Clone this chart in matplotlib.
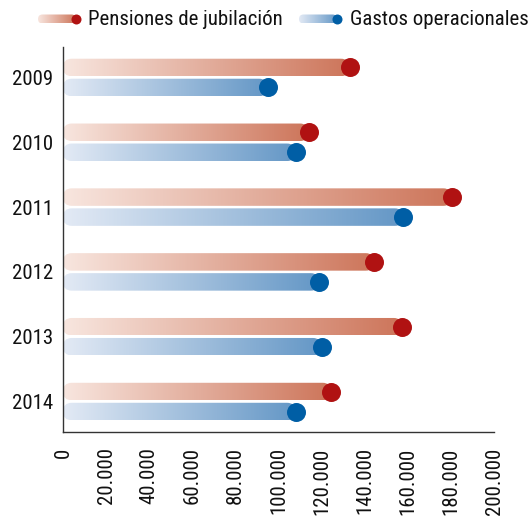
import numpy as np
import matplotlib
matplotlib.use("Agg")
import matplotlib.pyplot as plt
from matplotlib.colors import LinearSegmentedColormap
from matplotlib.patches import FancyBboxPatch
from matplotlib.ticker import FuncFormatter, MultipleLocator

plt.rcParams['font.family'] = ['Roboto Condensed', 'PT Sans Narrow', 'Liberation Sans', 'DejaVu Sans']

years = ["2009", "2010", "2011", "2012", "2013", "2014"]
pensiones = [133000, 114000, 180500, 144500, 157500, 124500]
gastos = [95000, 108000, 158000, 119000, 120000, 108000]
series_names = ["Pensiones de jubilación", "Gastos operacionales"]

red_cmap = LinearSegmentedColormap.from_list("r", ["#f8e6df", "#cd755a"])
blue_cmap = LinearSegmentedColormap.from_list("b", ["#e3eaf5", "#6497c6"])
red_dot = "#b01212"
blue_dot = "#005ea5"
txt = "#111111"

W, H = 528, 516
fig = plt.figure(figsize=(W / 100, H / 100), dpi=100)
ax = fig.add_axes([63 / W, (H - 432) / H, 431 / W, 385 / H])
ax.set_xlim(0, 200000)
ax.set_ylim(5.47, -0.47)

# pixel -> data scale
px_x = 200000 / 431
px_y = 5.94 / 385
bar_h = 17.5 * px_y
off = 10 * px_y
rad_x = 8.75 * px_x
rad_y = 8.75 * px_y

grad = np.linspace(0, 1, 256).reshape(1, -1)


def gbar(axis, x0, x1, yc, h, rx, ry, cmap):
    patch = FancyBboxPatch((x0, yc - h / 2), x1 - x0, h,
                           boxstyle=f"round,pad=0,rounding_size={rx}",
                           mutation_aspect=ry / rx,
                           facecolor="none", edgecolor="none",
                           transform=axis.transData)
    axis.add_patch(patch)
    im = axis.imshow(grad, cmap=cmap, extent=[x0, x1, yc - h / 2, yc + h / 2],
                     aspect="auto", interpolation="bicubic", zorder=2)
    im.set_clip_path(patch)


ypos = np.arange(len(years))
for i in ypos:
    gbar(ax, 0, pensiones[i], i - off, bar_h, rad_x, rad_y, red_cmap)
    gbar(ax, 0, gastos[i], i + off, bar_h, rad_x, rad_y, blue_cmap)

dot_s = (19 * 0.72) ** 2
ax.scatter(pensiones, ypos - off, s=dot_s, color=red_dot, zorder=3, linewidths=0)
ax.scatter(gastos, ypos + off, s=dot_s, color=blue_dot, zorder=3, linewidths=0)

ax.set_xlim(0, 200000)
ax.set_ylim(5.47, -0.47)

ax.set_yticks(ypos)
ax.set_yticklabels(years)
ax.xaxis.set_major_locator(MultipleLocator(20000))
ax.xaxis.set_major_formatter(FuncFormatter(lambda v, p: f"{int(v):,}".replace(",", ".")))
ax.tick_params(axis="x", length=0, pad=11, labelsize=15, labelrotation=90, colors=txt)
ax.tick_params(axis="y", length=0, pad=7, labelsize=15, colors=txt)
for s in ["top", "right"]:
    ax.spines[s].set_visible(False)
for s in ["left", "bottom"]:
    ax.spines[s].set_color("#333333")
    ax.spines[s].set_linewidth(1.0)

# legend (pixel coordinates overlay)
lax = fig.add_axes([0, 0, 1, 1], facecolor="none")
lax.set_xlim(0, W)
lax.set_ylim(H, 0)
lax.axis("off")
legend_items = [(38, 76, red_cmap, red_dot, 88, series_names[0]),
                (299, 337, blue_cmap, blue_dot, 350, series_names[1])]
for x0, x1, cm, dc, tx, label in legend_items:
    gbar(lax, x0, x1, 19, 9, 4.5, 4.5, cm)
    lax.scatter([x1], [19], s=(10 * 0.72) ** 2, color=dc, zorder=3, linewidths=0)
    lax.text(tx, 19.5, label, fontsize=15, color=txt, va="center", ha="left")
lax.set_xlim(0, W)
lax.set_ylim(H, 0)

fig.savefig("out.png", dpi=100)
